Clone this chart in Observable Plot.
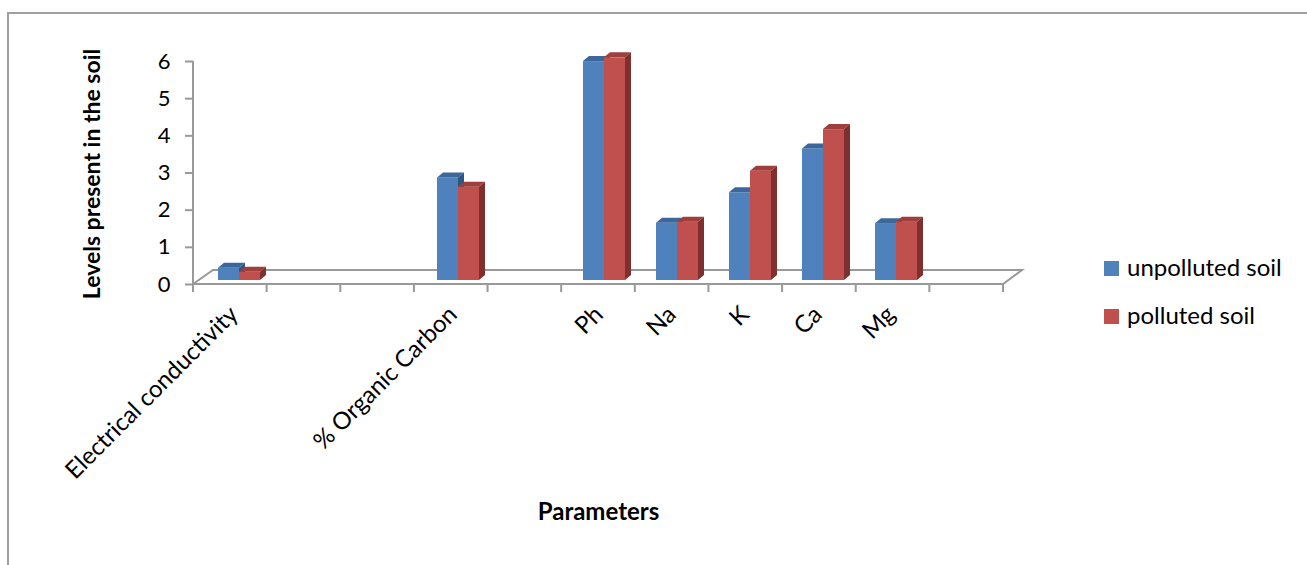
<!DOCTYPE html>
<html>
<head>
<meta charset="utf-8">
<script src="https://cdn.jsdelivr.net/npm/d3@7"></script>
<script src="https://cdn.jsdelivr.net/npm/@observablehq/plot@0.6"></script>
<style>
  html, body { margin: 0; padding: 0; background: #fff; }
  body { width: 1307px; height: 565px; position: relative; overflow: hidden; font-family: Lato, "Open Sans", sans-serif; }
  #border { position: absolute; left: 7px; top: 12px; width: 1400px; height: 700px; border-left: 2px solid #a0a0a0; border-top: 2px solid #a0a0a0; }
  #chart svg { position: absolute; left: 0; top: 0; }
  .legend { position: absolute; left: 1104px; font-size: 24px; line-height: 28px; color: #000; white-space: nowrap; }
  .legend span.sw { display: inline-block; width: 15px; height: 15px; vertical-align: 0px; margin-right: 8px; }
</style>
</head>
<body>
<div id="border"></div>
<div id="chart"></div>
<div class="legend" id="leg1" style="top:253px"><span class="sw" style="background:#4F81BD"></span>unpolluted soil</div>
<div class="legend" id="leg2" style="top:301px"><span class="sw" style="background:#C0504D"></span>polluted soil</div>
<script>
// ---- data ----
const categories = ["Electrical conductivity", "% Organic Carbon", "Ph", "Na", "K", "Ca", "Mg"];
const unpolluted = [0.33, 2.76, 5.89, 1.54, 2.36, 3.54, 1.53];
const polluted   = [0.22, 2.51, 5.99, 1.57, 2.94, 4.06, 1.57];
// category slots along the x axis (blank slots are empty positions on the axis)
const xSlots = ["Electrical conductivity", " ", "  ", "% Organic Carbon", "   ", "Ph", "Na", "K", "Ca", "Mg", "    "];
const yTicks = [0, 1, 2, 3, 4, 5, 6];
const seriesNames = ["unpolluted soil", "polluted soil"];

const rowsU = categories.map((c, i) => ({category: c, value: unpolluted[i]}));
const rowsP = categories.map((c, i) => ({category: c, value: polluted[i]}));

const DX = 6, DY = 5; // depth of the 3D extrusion
const SVGNS = "http://www.w3.org/2000/svg";

function poly(points, fill) {
  const p = document.createElementNS(SVGNS, "polygon");
  p.setAttribute("points", points.map(q => q.join(",")).join(" "));
  p.setAttribute("fill", fill);
  return p;
}

function bar3d(topColor, sideColor) {
  return function(index, scales, values, dims, context, next) {
    const g = next(index, scales, values, dims, context);
    const rects = Array.from(g.querySelectorAll("rect"));
    for (const r of rects) {
      const x = +r.getAttribute("x"), y = +r.getAttribute("y");
      const w = +r.getAttribute("width"), h = +r.getAttribute("height");
      const top = poly([[x, y], [x + w, y], [x + w + DX, y - DY], [x + DX, y - DY]], topColor);
      const side = poly([[x + w, y], [x + w + DX, y - DY], [x + w + DX, y + h - DY], [x + w, y + h]], sideColor);
      r.after(top);
      top.after(side);
    }
    return g;
  };
}

function floor(index, scales, values, dims) {
  const g = document.createElementNS(SVGNS, "g");
  g.setAttribute("stroke", "#999");
  g.setAttribute("stroke-width", "2");
  g.setAttribute("fill", "none");
  const x0 = dims.marginLeft, x1 = dims.width - dims.marginRight;
  const base = scales.y(0);
  const yf = base + 4, yb = base - 10, off = 20;
  const yTop = scales.y(6) + 4;
  const path = (d) => { const p = document.createElementNS(SVGNS, "path"); p.setAttribute("d", d); g.appendChild(p); };
  path(`M${x0},${yTop}V${yf}H${x1}L${x1 + off - 1},${yb}H${x0 + off}L${x0},${yf}`);
  const n = xSlots.length, step = (x1 - x0) / n;
  let d = "";
  for (let i = 0; i <= n; i++) d += `M${x0 + i * step},${yf}v8`;
  path(d);
  return g;
}

const chart = Plot.plot({
  width: 1307,
  height: 565,
  marginLeft: 193,
  marginRight: 304,
  marginTop: 57,
  marginBottom: 285,
  style: {fontFamily: "Lato, 'Open Sans', sans-serif", fontSize: "22px", color: "#000", background: "transparent", overflow: "visible"},
  x: {type: "band", domain: xSlots, padding: 0},
  y: {domain: [0, 6]},
  marks: [
    Plot.ruleY([0], {render: floor, stroke: "none"}),
    Plot.axisY({ticks: yTicks, tickSize: 8, tickPadding: 15, dy: 4, stroke: "#999", strokeWidth: 2, fontSize: 22, label: null, tickFormat: d => String(d)}),
    Plot.barY(rowsU, {x: "category", y: "value", fill: "#4F81BD", insetLeft: 21, insetRight: 31, render: bar3d("#3B679C", "#2F5682")}),
    Plot.barY(rowsP, {x: "category", y: "value", fill: "#C0504D", insetLeft: 42, insetRight: 10, render: bar3d("#9F3E3B", "#7F302E")}),
    Plot.axisX({tickSize: 0, tickRotate: -45, tickPadding: 30, fontSize: 24, label: null}),
    Plot.text(["Parameters"], {frameAnchor: "bottom", dy: 239, fontWeight: "bold", fontSize: 24}),
    Plot.text(["Levels present in the soil"], {frameAnchor: "left", dx: -101, dy: 5, rotate: -90, textAnchor: "middle", fontWeight: "bold", fontSize: 23})
  ]
});
document.getElementById("chart").appendChild(chart);
</script>
</body>
</html>
